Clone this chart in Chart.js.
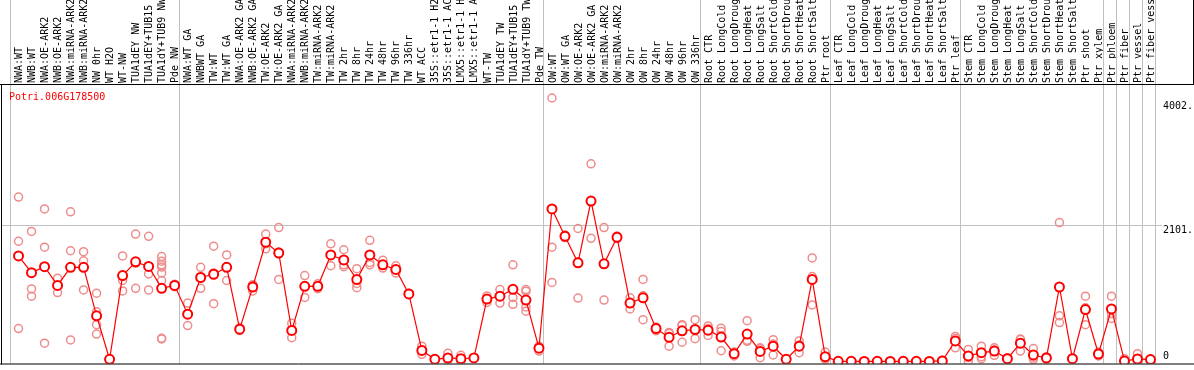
<!DOCTYPE html>
<html>
<head>
<meta charset="utf-8">
<script src="https://cdn.jsdelivr.net/npm/chart.js@4/dist/chart.umd.min.js"></script>
<style>
  html, body { margin: 0; padding: 0; background: #fff; }
  #grafico { display: block; }
</style>
</head>
<body>
<canvas id="grafico" width="1194" height="370"></canvas>
<script>
// Datos
const geneName = 'Potri.006G178500';

const categories = [
    'NWA:WT', 'NWB:WT', 'NWA:OE-ARK2', 'NWB:OE-ARK2', 'NWA:miRNA-ARK2', 'NWB:miRNA-ARK2', 'NW 0hr', 'WT H2O', 'WT-NW',
    'TUA1dEY NW', 'TUA1dEY+TUB15', 'TUA1dY+TUB9 NW', 'Pde NW',
    'NWA:WT GA', 'NWBWT GA', 'TW:WT', 'TW:WT GA', 'NWA:OE-ARK2 GA', 'NWB:OE-ARK2 GA', 'TW:OE-ARK2', 'TW:OE-ARK2 GA',
    'NWA:miRNA-ARK2', 'NWB:miRNA-ARK2', 'TW:miRNA-ARK2', 'TW:miRNA-ARK2', 'TW 2hr', 'TW 8hr', 'TW 24hr', 'TW 48hr',
    'TW 96hr', 'TW 336hr', 'WT ACC', '35S::etr1-1 H2', '35S::etr1-1 AC', 'LMX5::etr1-1 H', 'LMX5::etr1-1 A', 'WT-TW',
    'TUA1dEY TW', 'TUA1dEY+TUB15', 'TUA1dY+TUB9 TW', 'Pde TW',
    'OW:WT', 'OW:WT GA', 'OW:OE-ARK2', 'OW:OE-ARK2 GA', 'OW:miRNA-ARK2', 'OW:miRNA-ARK2', 'OW 2hr', 'OW 8hr',
    'OW 24hr', 'OW 48hr', 'OW 96hr', 'OW 336hr',
    'Root CTR', 'Root LongCold', 'Root LongDroug', 'Root LongHeat', 'Root LongSalt', 'Root ShortCold',
    'Root ShortDrou', 'Root ShortHeat', 'Root ShortSalt', 'Ptr root',
    'Leaf CTR', 'Leaf LongCold', 'Leaf LongDroug', 'Leaf LongHeat', 'Leaf LongSalt', 'Leaf ShortCold',
    'Leaf ShortDrou', 'Leaf ShortHeat', 'Leaf ShortSalt', 'Ptr leaf',
    'Stem CTR', 'Stem LongCold', 'Stem LongDroug', 'Stem LongHeat', 'Stem LongSalt', 'Stem ShortCold',
    'Stem ShortDrou', 'Stem ShortHeat', 'Stem ShortSalt', 'Ptr shoot',
    'Ptr xylem', 'Ptr phloem', 'Ptr fiber', 'Ptr vessel', 'Ptr fiber vess'
];

// media de cada condicion
const means = [
    1625, 1368, 1459, 1172, 1449, 1449, 704, 35, 1323, 1534, 1464, 1127, 1172,
    729, 1293, 1343, 1449, 498, 1147, 1836, 1670, 478, 1157, 1157, 1640, 1564, 1263, 1640, 1489,
    1418, 1041, 171, 35, 55, 45, 55, 961, 1006, 1112, 946, 206,
    2349, 1927, 1519, 2470, 1504, 1911, 900, 981, 508, 372, 473, 493,
    483, 377, 121, 423, 156, 236, 35, 236, 1263, 75,
    4, 3, 2, 3, 2, 4, 3, 2, 10, 317,
    86, 136, 161, 45, 282, 101, 55, 1147, 45, 800,
    116, 810, 8, 40, 30
];

// replicas de cada condicion
const replicates = [
    [2530, 1851, 508], [2002, 1117, 1006], [2349, 1760, 282], [1283, 1061, 1172], [2304, 1705, 332],
    [1690, 1549, 1102], [1051, 765, 568, 423], [30, 35, 40], [1625, 1247, 1086], [1962, 1127, 1513],
    [1927, 1348, 1102], [1615, 1544, 1489, 1454, 1363, 1247, 357, 347], [1150, 1190, 1175],
    [900, 553, 734], [1449, 1127, 1303], [1775, 890, 1364], [1640, 1247, 1460], [520, 498, 476],
    [1172, 1086, 1183], [1962, 1735, 1811], [2062, 1263, 1685], [589, 367, 478], [1323, 986, 1162],
    [1197, 1122, 1152], [1811, 1474, 1635], [1720, 1489, 1459], [1429, 1202, 1137], [1866, 1524, 1489],
    [1559, 1439, 1489], [1474, 1363, 1418], [1030, 1050, 1043], [236, 111, 171], [30, 35, 40],
    [126, 40, 15], [96, 45, 0], [55, 60, 50], [961, 910, 1010], [1107, 900, 1011], [1489, 986, 880],
    [1107, 1081, 840, 774], [236, 161, 221],
    [4055, 1760, 1217], [1947, 1927, 1907], [2047, 976, 1534], [3043, 1896, 2471], [2062, 946, 1504],
    [1932, 1896, 1905], [981, 810, 909], [1263, 1011, 644], [518, 473, 533], [448, 236, 432],
    [568, 297, 554], [644, 352, 483],
    [548, 508, 402], [513, 463, 166], [146, 86, 131], [629, 312, 328], [211, 60, 196], [337, 101, 270],
    [35, 25, 45], [317, 136, 255], [1595, 1308, 871], [146, 35, 44],
    [3, 0, 8], [5, 0, 4], [2, 0, 4], [6, 0, 3], [3, 0, 2], [8, 0, 4], [5, 0, 3], [3, 0, 2], [10, 0, 20],
    [387, 211, 353],
    [186, 10, 62], [236, 75, 45], [211, 96, 176], [45, 30, 60], [347, 161, 338], [201, 35, 67],
    [75, 35, 55], [2138, 704, 599], [45, 40, 50], [1006, 568, 826],
    [146, 116, 86], [1006, 739, 664], [45, 0, 0], [121, 0, 0], [30, 25, 35]
];

const yTickValues = [0, 2101, 4002];
const yTickLabels = ['0', '2101.', '4002.'];
// limites de grupo (lineas verticales grises)
const groupBounds = [0, 13, 41, 53, 63, 73, 84, 85, 86, 87, 88];

const MONO = '"DejaVu Sans Mono", monospace';

const meanPoints = means.map((v, i) => ({ x: i, y: v }));
const repPoints = [];
replicates.forEach((vals, i) => vals.forEach(v => repPoints.push({ x: i, y: v })));

// lineas de la rejilla, marco y textos
const marcoPlugin = {
    id: 'marco',
    beforeDatasetsDraw(chart) {
        const { ctx, chartArea, scales: { x, y } } = chart;
        ctx.save();
        ctx.strokeStyle = '#c0c0c0';
        ctx.lineWidth = 1;
        groupBounds.forEach(b => {
            const px = Math.round(x.getPixelForValue(b - 0.5)) - 1.5;
            ctx.beginPath();
            ctx.moveTo(px, 0);
            ctx.lineTo(px, chartArea.bottom);
            ctx.stroke();
        });
        const gy = Math.round(y.getPixelForValue(yTickValues[1])) + 0.5;
        ctx.beginPath();
        ctx.moveTo(2, gy);
        ctx.lineTo(chartArea.right + 5, gy);
        ctx.stroke();
        ctx.restore();
    },
    afterDraw(chart) {
        const { ctx, chartArea, scales: { y }, width } = chart;
        ctx.save();
        ctx.strokeStyle = '#000';
        ctx.lineWidth = 1;
        ctx.beginPath();
        ctx.moveTo(0, chartArea.top - 0.5);
        ctx.lineTo(width, chartArea.top - 0.5);
        ctx.moveTo(1.5, chartArea.top);
        ctx.lineTo(1.5, chartArea.bottom + 1);
        ctx.moveTo(0, chartArea.bottom + 0.5);
        ctx.lineTo(width, chartArea.bottom + 0.5);
        ctx.moveTo(width - 0.5, 0);
        ctx.lineTo(width - 0.5, chartArea.top);
        ctx.stroke();

        ctx.font = '10px ' + MONO;
        ctx.textBaseline = 'middle';
        ctx.textAlign = 'left';
        ctx.fillStyle = '#ff0000';
        ctx.fillText(geneName, 9, chartArea.top + 12);

        ctx.fillStyle = '#000';
        yTickValues.forEach((v, i) => {
            const py = Math.min(y.getPixelForValue(v) + 5, chartArea.bottom - 7);
            ctx.fillText(yTickLabels[i], chartArea.right + 6, py);
        });
        ctx.restore();
    }
};

function generarGrafico() {
    const ctx = document.getElementById('grafico').getContext('2d');
    new Chart(ctx, {
        type: 'scatter',
        data: {
            datasets: [
                {
                    label: 'media',
                    data: meanPoints,
                    showLine: true,
                    borderColor: '#ff0000',
                    borderWidth: 1.2,
                    pointRadius: 4.5,
                    pointBorderWidth: 2,
                    pointBorderColor: '#ff0000',
                    pointBackgroundColor: '#ffffff',
                    order: 0,
                    clip: { left: false, top: false, right: false, bottom: 0 }
                },
                {
                    label: 'replicas',
                    data: repPoints,
                    showLine: false,
                    pointRadius: 4,
                    pointBorderWidth: 1.5,
                    pointBorderColor: '#ee8c8c',
                    pointBackgroundColor: 'rgba(0,0,0,0)',
                    order: 1,
                    clip: { left: false, top: false, right: false, bottom: 0 }
                }
            ]
        },
        options: {
            responsive: false,
            animation: false,
            layout: { padding: { left: 12, right: 0, top: 0, bottom: 1 } },
            scales: {
                x: {
                    type: 'linear',
                    position: 'top',
                    min: -0.5,
                    max: categories.length - 0.5,
                    afterBuildTicks: s => { s.ticks = categories.map((_, i) => ({ value: i })); },
                    afterFit: s => { s.height = 85; s.paddingLeft = 0; s.paddingRight = 0; },
                    grid: { display: false, drawTicks: false },
                    border: { display: false },
                    ticks: {
                        autoSkip: false,
                        minRotation: 90,
                        maxRotation: 90,
                        padding: 2,
                        labelOffset: 13,
                        color: '#000',
                        font: { family: MONO, size: 10 },
                        callback: v => categories[v]
                    }
                },
                y: {
                    position: 'right',
                    min: -30,
                    max: 4255,
                    afterBuildTicks: s => { s.ticks = yTickValues.map(v => ({ value: v })); },
                    afterFit: s => { s.width = 37; },
                    grid: { display: false, drawTicks: false },
                    border: { display: false },
                    ticks: { display: false }
                }
            },
            plugins: {
                legend: { display: false },
                tooltip: { enabled: false }
            }
        },
        plugins: [marcoPlugin]
    });
}

window.onload = generarGrafico;
</script>
</body>
</html>
